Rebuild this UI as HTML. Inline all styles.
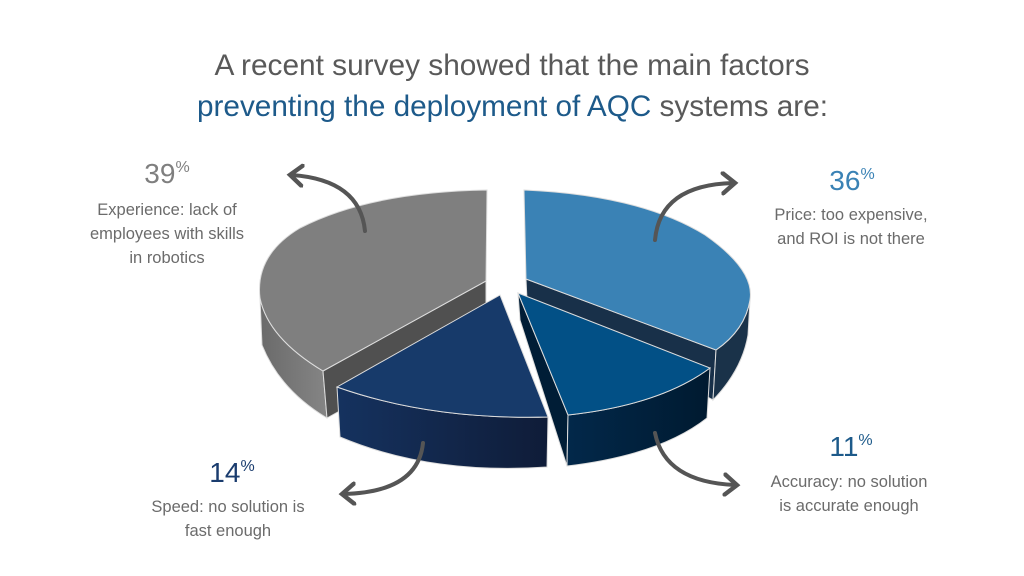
<!DOCTYPE html>
<html><head><meta charset="utf-8"><style>
html,body{margin:0;padding:0;background:#fff;}
svg{display:block;}
text{font-family:"Liberation Sans",Arial,sans-serif;}
</style></head><body>
<svg width="1024" height="576" viewBox="0 0 1024 576" xmlns="http://www.w3.org/2000/svg">
<defs>
<linearGradient id="gs" x1="0" x2="1"><stop offset="0" stop-color="#6a6a6a"/><stop offset="1" stop-color="#858585"/></linearGradient>
<linearGradient id="ns" x1="0" x2="1"><stop offset="0" stop-color="#15325f"/><stop offset="1" stop-color="#0f1c38"/></linearGradient>
<linearGradient id="ds" x1="0" x2="1"><stop offset="0" stop-color="#02284a"/><stop offset="1" stop-color="#001a30"/></linearGradient>
<marker id="ah" markerWidth="6" markerHeight="6" refX="3" refY="3" orient="auto" markerUnits="strokeWidth"><path d="M0.5,0.5 L3.5,3 L0.5,5.5" fill="none" stroke="#555" stroke-width="1.1" stroke-linecap="round"/></marker>
</defs>
<rect width="1024" height="576" fill="#fff"/>
<!-- title -->
<text x="512" y="75" text-anchor="middle" font-size="30" fill="#595959" textLength="595" lengthAdjust="spacingAndGlyphs">A recent survey showed that the main factors</text>
<text x="197" y="116" font-size="30" textLength="631" lengthAdjust="spacingAndGlyphs"><tspan fill="#1d5a8a">preventing the deployment of AQC</tspan><tspan fill="#595959"> systems are:</tspan></text>

<!-- gray slice -->
<path d="M260,298 L262,345 Q280,390 327,418 L323,371 Q268,338 260,298 Z" fill="url(#gs)" stroke="#ddd" stroke-width="1"/>
<path d="M323,371 L486,281 L486,330 L327,418 Z" fill="#505050" stroke="#ddd" stroke-width="1"/>
<path d="M486,281 L487,190 Q370,192 300,228 Q255,255 260,298 Q268,338 323,371 Z" fill="#7f7f7f" stroke="#ddd" stroke-width="1"/>

<!-- light blue slice -->
<path d="M526,279 L716,350 L713,400 L527,300 Z" fill="#183049" stroke="#ddd" stroke-width="1"/>
<path d="M716,350 Q745,330 750,300 L748,335 Q742,370 713,400 Z" fill="#1a3249" stroke="#ddd" stroke-width="1"/>
<path d="M526,279 L524,190 Q640,195 705,235 Q755,270 750,300 Q745,330 716,350 Z" fill="#3a82b5" stroke="#ddd" stroke-width="1"/>

<!-- navy slice -->
<path d="M337,387 L340,437 Q430,475 547,467 L548,417 Q430,420 337,387 Z" fill="url(#ns)" stroke="#ddd" stroke-width="1"/>
<path d="M500,295 L337,387 Q430,420 548,417 Z" fill="#173a6a" stroke="#ddd" stroke-width="1"/>

<!-- dark blue slice -->
<path d="M518,293 L568,415 L567,466 L520,320 Z" fill="#001d36" stroke="#ddd" stroke-width="1"/>
<path d="M568,415 Q660,405 710,368 L707,418 Q660,455 567,466 Z" fill="url(#ds)" stroke="#ddd" stroke-width="1"/>
<path d="M518,293 L710,368 Q660,405 568,415 Z" fill="#025086" stroke="#ddd" stroke-width="1"/>

<!-- arrows -->
<g fill="none" stroke="#555" stroke-width="4" stroke-linecap="round">
<path d="M365,231 Q360,180 292,175" marker-end="url(#ah)"/>
<path d="M655,240 Q660,185 733,183" marker-end="url(#ah)"/>
<path d="M423,443 Q418,492 344,494" marker-end="url(#ah)"/>
<path d="M655,433 Q665,482 735,485" marker-end="url(#ah)"/>
</g>

<!-- labels -->
<text x="167" y="183" text-anchor="middle" font-size="28" fill="#7f7f7f">39<tspan font-size="16" dy="-11">%</tspan></text>
<g font-size="16.5" fill="#6b6b6b" text-anchor="middle">
<text x="167" y="215">Experience: lack of</text>
<text x="167" y="239">employees with skills</text>
<text x="167" y="263">in robotics</text>
</g>
<text x="852" y="190" text-anchor="middle" font-size="28" fill="#3a82b5">36<tspan font-size="16" dy="-11">%</tspan></text>
<g font-size="16.5" fill="#6b6b6b" text-anchor="middle">
<text x="851" y="220">Price: too expensive,</text>
<text x="851" y="244">and ROI is not there</text>
</g>
<text x="851" y="456" text-anchor="middle" font-size="28" fill="#1d5a8a">11<tspan font-size="16" dy="-11">%</tspan></text>
<g font-size="16.5" fill="#6b6b6b" text-anchor="middle">
<text x="849" y="487">Accuracy: no solution</text>
<text x="849" y="511">is accurate enough</text>
</g>
<text x="232" y="482" text-anchor="middle" font-size="28" fill="#1a3c6e">14<tspan font-size="16" dy="-11">%</tspan></text>
<g font-size="16.5" fill="#6b6b6b" text-anchor="middle">
<text x="228" y="512">Speed: no solution is</text>
<text x="228" y="536">fast enough</text>
</g>
</svg>
</body></html>
